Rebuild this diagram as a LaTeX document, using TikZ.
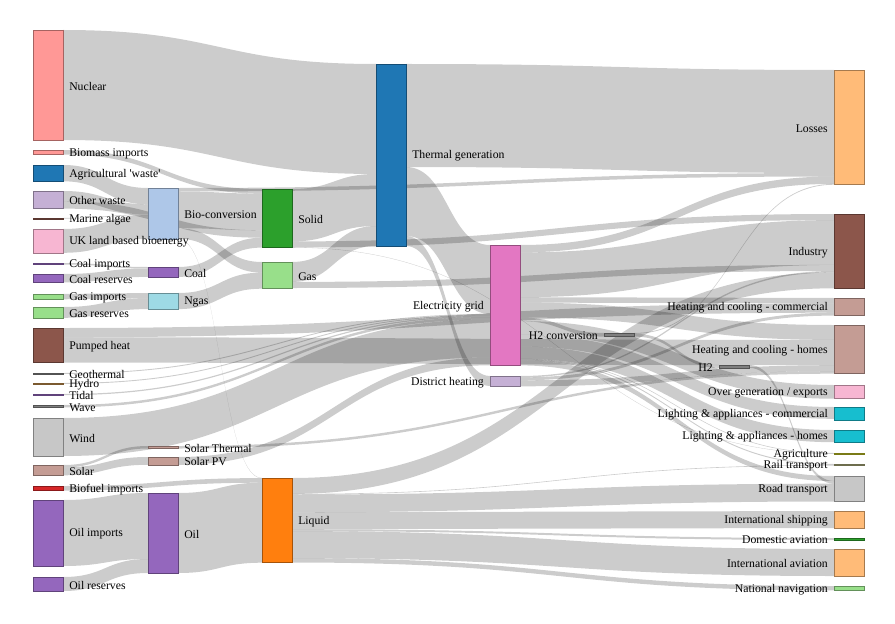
\documentclass[tikz,border=0pt]{standalone}
\usepackage{fontspec}
\setmainfont{Liberation Serif}
\usetikzlibrary{calc, backgrounds}

\definecolor{cPink}{HTML}{FF9896}
\definecolor{cLPink}{HTML}{F7B6D2}
\definecolor{cBlue}{HTML}{1F77B4}
\definecolor{cLBlue}{HTML}{AEC7E8}
\definecolor{cLav}{HTML}{C5B0D5}
\definecolor{cPurple}{HTML}{9467BD}
\definecolor{cBrown}{HTML}{8C564B}
\definecolor{cTan}{HTML}{C49C94}
\definecolor{cGreen}{HTML}{2CA02C}
\definecolor{cLGreen}{HTML}{98DF8A}
\definecolor{cGray}{HTML}{7F7F7F}
\definecolor{cLGray}{HTML}{C7C7C7}
\definecolor{cRed}{HTML}{D62728}
\definecolor{cOrange}{HTML}{FF7F0E}
\definecolor{cLOrange}{HTML}{FFBB78}
\definecolor{cHydro}{HTML}{BD8A4A}
\definecolor{cCyan}{HTML}{17BECF}
\definecolor{cLCyan}{HTML}{9EDAE5}
\definecolor{cMagenta}{HTML}{E377C2}
\definecolor{cOlive}{HTML}{BCBD22}
\definecolor{cOliveL}{HTML}{A8A878}

% a bar of the diagram: name, x, top, bottom, colour
\newcommand{\skbar}[5]{%
  \pgfmathsetmacro{\barh}{max(#4-#3,1)*0.75}
  \node[bar=#5, minimum height=\barh pt, anchor=north west] (#1) at (#2,#3) {};}
% a band between two bars: source, top, bottom, target, top, bottom
\newcommand{\flow}[6]{%
  \fill[link] let \p1=(#1.east), \p2=(#4.west) in
    (\x1,#2) .. controls ({(\x1+\x2)/2},#2) and ({(\x1+\x2)/2},#5) .. (\x2,#5)
    -- (\x2,#6) .. controls ({(\x1+\x2)/2},#6) and ({(\x1+\x2)/2},#3) .. (\x1,#3) -- cycle;}

\begin{document}
\begin{tikzpicture}[
    x=0.75pt, y=-0.75pt,
    font=\fontsize{8.8}{10}\selectfont,
    bar/.style={draw=#1!65!black, fill=#1, line width=0.4pt, inner sep=0pt, outer sep=0pt, minimum width=22.5pt},
    link/.style={fill=black, fill opacity=0.2},
    lblR/.style={anchor=west, xshift=4.5pt, yshift=-0.8pt, inner sep=0pt},
    lblL/.style={anchor=east, xshift=-4.5pt, yshift=-0.8pt, inner sep=0pt}
]
\useasboundingbox (0,0) rectangle (895,624);

% === COLUMN 1: sources ===
\skbar{nuclear}{33}{30}{140}{cPink}
\skbar{bioimp}{33}{150}{154.6}{cPink}
\skbar{agri}{33}{165}{181.3}{cBlue}
\skbar{otherw}{33}{191}{208.6}{cLav}
\skbar{marine}{33}{218}{218.6}{cBrown}
\skbar{ukland}{33}{229}{252.8}{cLPink}
\skbar{coalimp}{33}{263}{264.5}{cPurple}
\skbar{coalres}{33}{274}{282.4}{cPurple}
\skbar{gasimp}{33}{294}{299.3}{cLGreen}
\skbar{gasres}{33}{307}{317.8}{cLGreen}
\skbar{pumped}{33}{328}{362.6}{cBrown}
\skbar{geo}{33}{373}{373.9}{cGray}
\skbar{hydro}{33}{383}{383.9}{cHydro}
\skbar{tidal}{33}{394}{395.2}{cPurple}
\skbar{wave}{33}{405}{407.5}{cGray}
\skbar{wind}{33}{418}{456}{cLGray}
\skbar{solar}{33}{465}{475.3}{cTan}
\skbar{biofuel}{33}{486}{490.6}{cRed}
\skbar{oilimp}{33}{500}{566}{cPurple}
\skbar{oilres}{33}{577}{591}{cPurple}

% === COLUMNS 2-4 ===
\skbar{bioconv}{148}{188}{239}{cLBlue}
\skbar{coal}{148}{267}{276.9}{cPurple}
\skbar{ngas}{148}{293}{309.1}{cLCyan}
\skbar{solth}{148}{446}{448.5}{cTan}
\skbar{solpv}{148}{457}{464.8}{cTan}
\skbar{oil}{148}{493}{573}{cPurple}
\skbar{solid}{262}{189}{247.6}{cGreen}
\skbar{gas}{262}{262}{288.7}{cLGreen}
\skbar{liquid}{262}{478}{562.7}{cOrange}
\skbar{thermal}{376}{64}{246}{cBlue}

% === COLUMNS 5-7 ===
\skbar{grid}{490}{245}{365.5}{cMagenta}
\skbar{dh}{490}{376}{386.3}{cLav}
\skbar{h2conv}{604}{333}{336.6}{cGray}
\skbar{h2}{719}{365}{367.8}{cGray}

% === COLUMN 8: uses ===
\skbar{losses}{834}{70}{184.7}{cLOrange}
\skbar{industry}{834}{214}{288.3}{cBrown}
\skbar{heatcom}{834}{298}{315.6}{cTan}
\skbar{heathome}{834}{325}{373.7}{cTan}
\skbar{overgen}{834}{385}{398.7}{cLPink}
\skbar{lightcom}{834}{407}{420}{cCyan}
\skbar{lighthome}{834}{430}{442.2}{cCyan}
\skbar{agric}{834}{453}{454.5}{cOlive}
\skbar{rail}{834}{464}{465.6}{cOliveL}
\skbar{road}{834}{476}{501.5}{cLGray}
\skbar{intship}{834}{511}{528}{cLOrange}
\skbar{domav}{834}{538}{540}{cGreen}
\skbar{intav}{834}{549}{576}{cLOrange}
\skbar{natnav}{834}{586}{590.4}{cLGreen}

% === LABELS ===
\foreach \n/\t in {nuclear/Nuclear, bioimp/Biomass imports, agri/{Agricultural \textquotesingle waste\textquotesingle},
    otherw/Other waste, marine/Marine algae, ukland/UK land based bioenergy,
    coalimp/Coal imports, coalres/Coal reserves, gasimp/Gas imports, gasres/Gas reserves,
    pumped/Pumped heat, geo/Geothermal, hydro/Hydro, tidal/Tidal, wave/Wave, wind/Wind,
    solar/Solar, biofuel/Biofuel imports, oilimp/Oil imports, oilres/Oil reserves,
    bioconv/Bio-conversion, coal/Coal, ngas/Ngas, solth/Solar Thermal, solpv/Solar PV,
    oil/Oil, solid/Solid, gas/Gas, liquid/Liquid, thermal/Thermal generation}
  \node[lblR] (\n-l) at (\n.east) {\t};
\foreach \n/\t in {grid/Electricity grid, dh/District heating, h2conv/H2 conversion, h2/H2,
    losses/Losses, industry/Industry, heatcom/Heating and cooling - commercial,
    heathome/Heating and cooling - homes, overgen/{Over generation / exports},
    lightcom/Lighting \& appliances - commercial, lighthome/Lighting \& appliances - homes,
    agric/Agriculture, rail/Rail transport, road/Road transport,
    intship/International shipping, domav/Domestic aviation,
    intav/International aviation, natnav/National navigation}
  \node[lblL] (\n-l) at (\n.west) {\t};

% === BANDS ===
\begin{scope}[on background layer]
\fill[white] (0,0) rectangle (895,624);
\flow{nuclear}{30}{140}{thermal}{64}{174}
\flow{bioimp}{150}{154.6}{solid}{189}{193.6}
\flow{agri}{165}{181.3}{bioconv}{188}{204.3}
\flow{otherw}{191}{201.2}{bioconv}{204.3}{214.5}
\flow{otherw}{201.2}{208.6}{solid}{230.3}{237.7}
\flow{marine}{218}{218.6}{bioconv}{214.5}{215.1}
\flow{ukland}{229}{252.8}{bioconv}{215.1}{238.9}
\flow{coalimp}{263}{264.5}{coal}{267}{268.5}
\flow{coalres}{274}{282.4}{coal}{268.5}{276.9}
\flow{gasimp}{294}{299.3}{ngas}{293}{298.3}
\flow{gasres}{307}{317.8}{ngas}{298.3}{309.1}
\flow{pumped}{328}{337.3}{heatcom}{303.4}{312.7}
\flow{pumped}{337.3}{362.6}{heathome}{339.9}{365.2}
\flow{geo}{373}{373.9}{grid}{314}{314.9}
\flow{hydro}{383}{383.9}{grid}{314.9}{315.8}
\flow{tidal}{394}{395.2}{grid}{315.8}{317}
\flow{wave}{405}{407.5}{grid}{317}{319.5}
\flow{wind}{418}{456}{grid}{319.5}{357.5}
\flow{solar}{465}{467.5}{solth}{446}{448.5}
\flow{solar}{467.5}{475.3}{solpv}{457}{464.8}
\flow{biofuel}{486}{490.6}{liquid}{478.1}{482.7}
\flow{oilimp}{500}{566}{oil}{493}{559}
\flow{oilres}{577}{591}{oil}{559}{573}
\flow{bioconv}{188}{191.5}{losses}{173}{176.5}
\flow{bioconv}{191.5}{228.2}{solid}{193.6}{230.3}
\flow{bioconv}{228.2}{238.8}{gas}{262}{272.6}
\flow{bioconv}{238.8}{239.1}{liquid}{478}{478.3}
\flow{coal}{267}{276.9}{solid}{237.7}{247.6}
\flow{ngas}{293}{309.1}{gas}{272.6}{288.7}
\flow{solth}{446}{448.5}{heathome}{371.2}{373.7}
\flow{solpv}{457}{464.8}{grid}{357.5}{365.3}
\flow{oil}{493}{573}{liquid}{482.7}{562.7}
\flow{solid}{189}{241.4}{thermal}{174}{226}
\flow{solid}{241.4}{247.5}{industry}{214}{220.1}
\flow{solid}{247.3}{247.6}{agric}{453.6}{453.9}
\flow{gas}{262}{281.9}{thermal}{226}{246}
\flow{gas}{281.9}{288}{industry}{264.9}{271}
\flow{liquid}{478}{493.9}{industry}{272.4}{288.3}
\flow{liquid}{493.9}{494.5}{rail}{465}{465.6}
\flow{liquid}{494.5}{512.3}{road}{483.7}{501.5}
\flow{liquid}{512.3}{529.2}{intship}{511}{528}
\flow{liquid}{529.2}{531.1}{domav}{538}{540}
\flow{liquid}{531.1}{558.1}{intav}{549}{576}
\flow{liquid}{558.1}{562.5}{natnav}{586}{590.4}
\flow{thermal}{64}{167}{losses}{70}{173}
\flow{thermal}{167}{236}{grid}{245}{314}
\flow{thermal}{236}{246}{dh}{376}{386}
\flow{grid}{245}{252.4}{losses}{176.5}{183.9}
\flow{grid}{252.4}{297.2}{industry}{220.1}{264.9}
\flow{grid}{297.2}{302.6}{heatcom}{298}{303.4}
\flow{grid}{302.6}{317.5}{heathome}{325}{339.9}
\flow{grid}{317.5}{321.1}{h2conv}{333}{336.6}
\flow{grid}{321.1}{334.8}{overgen}{385}{398.7}
\flow{grid}{334.8}{346.6}{lightcom}{407}{418.8}
\flow{grid}{346.6}{358.8}{lighthome}{430}{442.2}
\flow{grid}{358.8}{359.4}{agric}{453}{453.6}
\flow{grid}{359.4}{360.4}{rail}{464}{465}
\flow{grid}{360.4}{365.4}{road}{476}{481}
\flow{dh}{376}{377.4}{industry}{271}{272.4}
\flow{dh}{377.4}{380.3}{heatcom}{312.7}{315.6}
\flow{dh}{380.3}{386.3}{heathome}{365.2}{371.2}
\flow{h2conv}{333}{333.8}{losses}{183.9}{184.7}
\flow{h2conv}{333.8}{336.6}{h2}{365}{367.8}
\flow{h2}{365}{367.8}{road}{481}{483.7}
\end{scope}

\end{tikzpicture}
\end{document}
